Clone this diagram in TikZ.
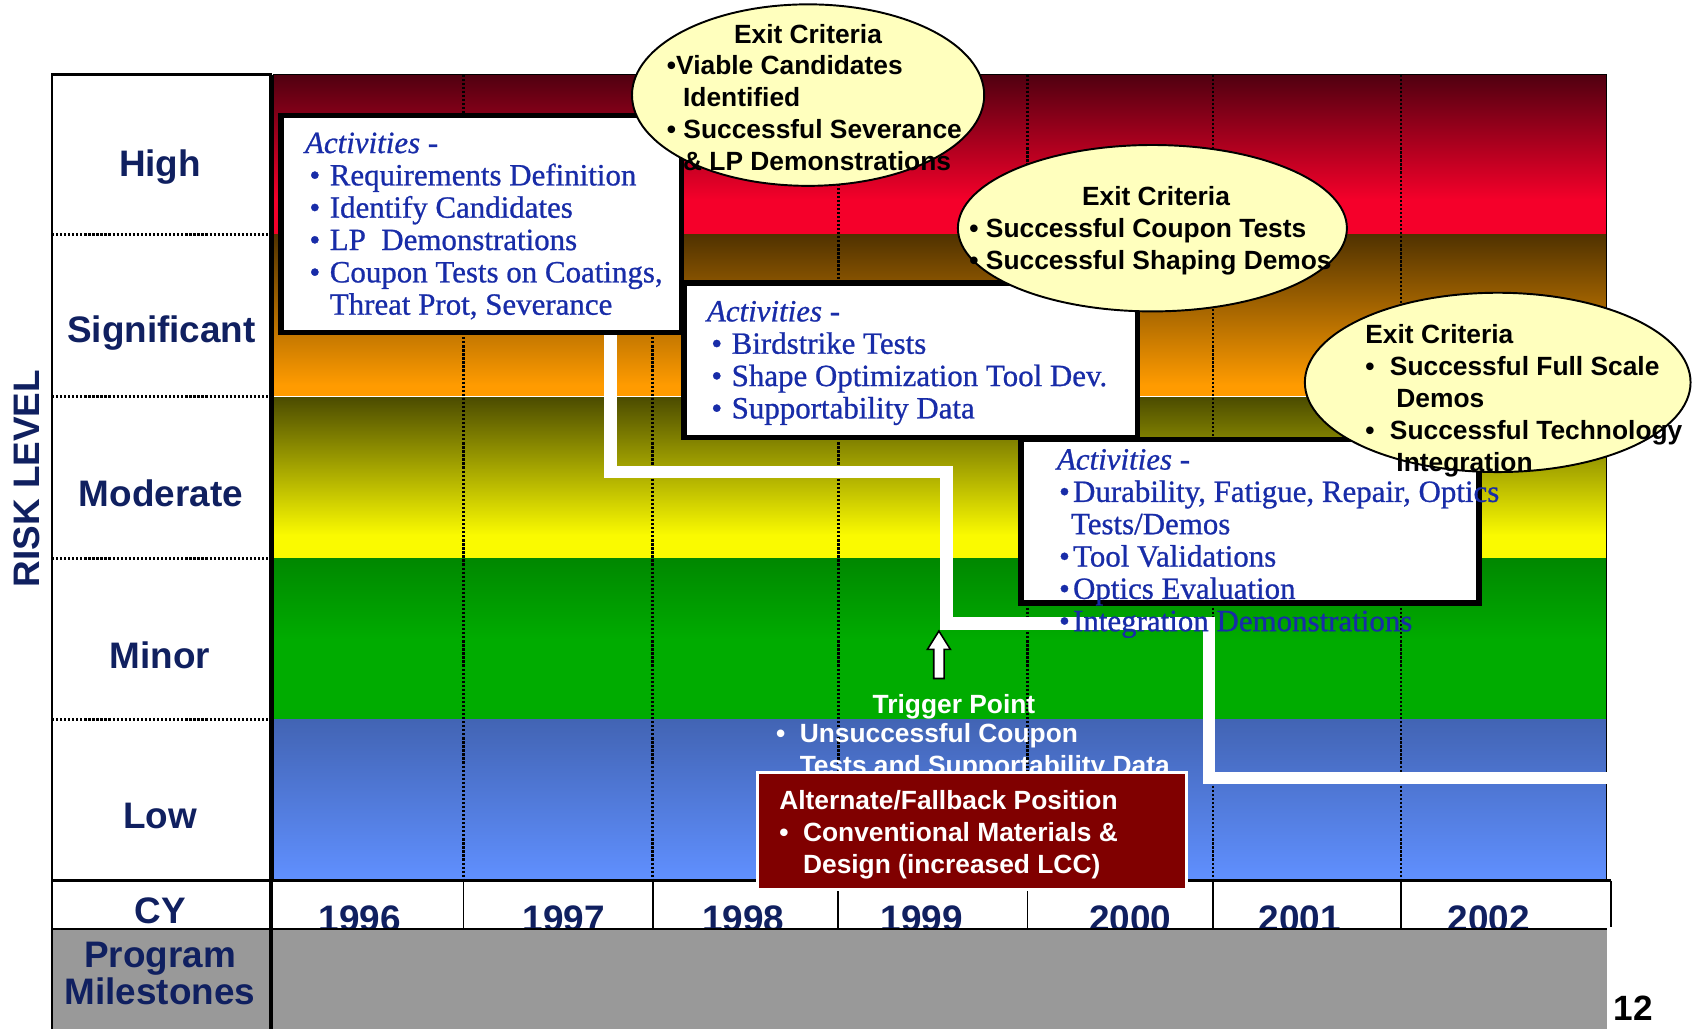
\documentclass[tikz,border=0pt]{standalone}
\usepackage{fontspec}
\setmainfont{Liberation Sans}
\newfontfamily\actfont[FakeBold=0.8]{Liberation Serif}
\usetikzlibrary{shapes.geometric}

\definecolor{navylbl}{RGB}{16,32,96}
\definecolor{actblue}{RGB}{24,44,168}
\definecolor{exityel}{RGB}{255,255,190}
\definecolor{fallred}{RGB}{128,0,0}
\definecolor{msgray}{RGB}{153,153,153}
\definecolor{hitop}{RGB}{80,0,16}
\definecolor{hibot}{RGB}{245,0,42}
\definecolor{sgtop}{RGB}{80,50,0}
\definecolor{sgbot}{RGB}{255,155,0}
\definecolor{mdtop}{RGB}{75,75,0}
\definecolor{mdbot}{RGB}{250,250,0}
\definecolor{mntop}{RGB}{0,136,0}
\definecolor{mnbot}{RGB}{0,172,0}
\definecolor{lwtop}{RGB}{66,100,180}
\definecolor{lwbot}{RGB}{96,144,255}

\newcommand{\actbul}{\hspace*{2.5pt}\makebox[11.6pt][l]{\textbullet}}
\newcommand{\actind}{\hspace*{14.1pt}}
\newcommand{\actbulc}{\hspace*{1.2pt}\makebox[8pt][l]{\textbullet}}
\newcommand{\exbul}{\makebox[14pt][l]{\textbullet}}
\newcommand{\fbbul}{\makebox[13.5pt][l]{\textbullet}}

\tikzset{
  lvl/.style={font=\fontsize{21}{21}\selectfont\bfseries, text=navylbl, anchor=base, inner sep=0pt},
  yrline/.style={densely dotted, line width=1.3pt},
  lvlsep/.style={densely dotted, line width=1.3pt},
  actbox/.style={rectangle, draw=black, line width=3pt, fill=white, inner sep=0pt},
  acttext/.style={font=\actfont\fontsize{17.6}{18.4}\selectfont, text=actblue, align=left, anchor=base west, inner sep=0pt},
  exitbub/.style={ellipse, draw=black, line width=1.1pt, fill=exityel, inner sep=0pt},
  exittext/.style={font=\fontsize{15}{18.3}\selectfont\bfseries, align=left, anchor=base west, inner sep=0pt},
  stairline/.style={white, line width=7pt, line join=miter},
  falltext/.style={exittext, text=white},
  trigshape/.style={draw=black, fill=white, line width=0.9pt, line join=miter},
}

\begin{document}
\begin{tikzpicture}[x=0.02cm, y=-0.02cm]
% Set the unit: one pixel of the slide
\def\u{0.02cm}
\useasboundingbox (0,0) rectangle (1694,1028);

% Risk bands
\fill[white] (51.9,74.5) rectangle (271.2,880.5);
\shade[top color=hitop, bottom color=hibot] (273.3,74.5) rectangle (1606.6,200);
\fill[hibot] (273.3,200) rectangle (1606.6,234.4);
\shade[top color=sgtop, bottom color=sgbot] (273.3,234.4) rectangle (1606.6,385);
\fill[sgbot] (273.3,385) rectangle (1606.6,396.5);
\shade[top color=mdtop, bottom color=mdbot] (273.3,396.5) rectangle (1606.6,535);
\fill[mdbot] (273.3,535) rectangle (1606.6,558.6);
\shade[top color=mntop, bottom color=mnbot] (273.3,558.6) rectangle (1606.6,640);
\fill[mnbot] (273.3,640) rectangle (1606.6,719.5);
\shade[top color=lwtop, bottom color=lwbot] (273.3,719.5) rectangle (1606.6,880.5);
\draw[white, line width=0.6pt] (273.3,396.5) -- (1606.6,396.5);

% Year lines and level separators
\draw[yrline] (463.5,74.5) -- (463.5,880.5);
\draw[yrline] (652.6,74.5) -- (652.6,880.5);
\draw[yrline] (838.4,74.5) -- (838.4,880.5);
\draw[yrline] (1027.5,74.5) -- (1027.5,880.5);
\draw[yrline] (1213.3,74.5) -- (1213.3,880.5);
\draw[yrline] (1401.3,74.5) -- (1401.3,880.5);
\draw[lvlsep] (51.9,234.4) -- (271.2,234.4);
\draw[lvlsep] (51.9,396.5) -- (271.2,396.5);
\draw[lvlsep] (51.9,558.6) -- (271.2,558.6);
\draw[lvlsep] (51.9,719.5) -- (271.2,719.5);
\draw[line width=1.3pt] (51.9,74.5) rectangle (271.2,880.5);
\draw[line width=0.8pt] (273.3,74.5) rectangle (1606.6,880.5);

% Path through the risk levels
\coordinate (stairs0) at (610.4,332.8);
\coordinate (stairs1) at (946.4,472.1);
\coordinate (stairs2) at (1209,623.4);
\coordinate (stairs3) at (1606.6,777.9);
\draw[stairline] (stairs0) |- (stairs1) |- (stairs2) |- (stairs3);

% Activity boxes and exit criteria
\node[actbox, minimum width=400.8*\u, minimum height=217.2*\u] (acta) at (481.3,224.2) {};
\node[actbox, minimum width=453.8*\u, minimum height=154.6*\u] (actb) at (910.8,360.3) {};
\node[actbox, minimum width=458*\u, minimum height=163.2*\u] (actc) at (1250,521.3) {};
\node[exitbub, minimum width=352.2*\u, minimum height=181.5*\u] (exa) at (808.1,95.1) {};
\node[exitbub, minimum width=389*\u, minimum height=166.4*\u] (exb) at (1152.4,228.2) {};
\node[exitbub, minimum width=385.7*\u, minimum height=179.3*\u] (exc) at (1497.7,382.4) {};

% Calendar row and milestones
\draw[line width=1.3pt] (51.9,880.5) -- (1610.9,880.5);
\draw[line width=1.3pt] (51.9,880.5) -- (51.9,929.1);
\draw[line width=1.3pt] (1610.9,880.5) -- (1610.9,927);
\draw[line width=1.1pt] (463.5,880.5) -- (463.5,929.1);
\draw[line width=1.1pt] (652.6,880.5) -- (652.6,929.1);
\draw[line width=1.1pt] (838.4,880.5) -- (838.4,929.1);
\draw[line width=1.1pt] (1027.5,880.5) -- (1027.5,929.1);
\draw[line width=1.1pt] (1213.3,880.5) -- (1213.3,929.1);
\draw[line width=1.1pt] (1401.3,880.5) -- (1401.3,929.1);
\node[lvl] (cy) at (160,923.5) {CY};
\node[lvl] (y1996) at (359.8,931) {1996};
\node[lvl] (y1997) at (564,931) {1997};
\node[lvl] (y1998) at (743.3,931) {1998};
\node[lvl] (y1999) at (921.6,931) {1999};
\node[lvl] (y2000) at (1130.1,931) {2000};
\node[lvl] (y2001) at (1299.7,931) {2001};
\node[lvl] (y2002) at (1488.8,931) {2002};
\fill[msgray] (51.9,929.1) rectangle (1606.6,1028.5);
\draw[line width=1.5pt] (51.9,929.1) -- (1606.6,929.1);
\draw[line width=1.3pt] (51.9,929.1) -- (51.9,1028.5);
\draw[line width=2.6pt] (271.2,74.5) -- (271.2,1028.5);
\node[lvl] (prog) at (160,967) {Program};
\node[lvl] (miles) at (160,1004) {Milestones};

% Risk level labels
\node[lvl] (lvlhigh) at (160,176.4) {High};
\node[lvl] (lvlsig) at (161.5,342.8) {Significant};
\node[lvl] (lvlmod) at (161,506) {Moderate};
\node[lvl] (lvlmin) at (160,668) {Minor};
\node[lvl] (lvllow) at (160,828) {Low};
\node[lvl, anchor=center, rotate=90] (risk) at (27,478.6) {RISK LEVEL};
\node[font=\fontsize{20}{20}\selectfont\bfseries, inner sep=0pt] (pgno) at (1633.5,1008) {12};

% Activities (anchored on the last line)
\node[acttext] (actatext) at (304.7,314.7) {\textit{Activities -}\\
  \actbul Requirements Definition\\
  \actbul Identify Candidates\\
  \actbul LP\ \ Demonstrations\\
  \actbul Coupon Tests on Coatings,\\
  \actind Threat Prot, Severance};
\node[acttext] (actbtext) at (706.6,418.4) {\textit{Activities -}\\
  \actbul Birdstrike Tests\\
  \actbul Shape Optimization Tool Dev.\\
  \actbul Supportability Data};
\node[acttext] (actctext) at (1056.6,631.2) {\textit{Activities -}\\
  \actbulc Durability, Fatigue, Repair, Optics\\
  \hspace*{8pt}Tests/Demos\\
  \actbulc Tool Validations\\
  \actbulc Optics Evaluation\\
  \actbulc Integration Demonstrations};

% Exit criteria
\node[exittext, anchor=base] (exatitle) at (808,43) {Exit Criteria};
\node[exittext] (exatext) at (666.6,170.5) {\textbullet Viable Candidates\\
  \hspace*{9.2pt}Identified\\
  \textbullet\ Successful Severance\\
  \hspace*{9.2pt}\& LP Demonstrations};
\node[exittext, anchor=base] (exbtitle) at (1156,205) {Exit Criteria};
\node[exittext] (exbtext) at (969.1,269.9) {\textbullet\ Successful Coupon Tests\\
  \textbullet\ Successful Shaping Demos};
\node[exittext] (exctext) at (1365,471.9) {Exit Criteria\\
  \exbul Successful Full Scale\\
  \hspace*{17.7pt}Demos\\
  \exbul Successful Technology\\
  \hspace*{17.7pt}Integration};

% Trigger point and fallback
\draw[trigshape] (938.9,631) -- (950.4,649.4) -- (944.1,649.4) -- (944.1,678.5)
  -- (933.7,678.5) -- (933.7,649.4) -- (927.4,649.4) -- cycle;
\node[falltext, anchor=base] (trig) at (954,713) {Trigger Point};
\node[falltext] (unsucc) at (775.7,774.5) {\fbbul Unsuccessful Coupon\\
  \hspace*{13.5pt}Tests and Supportability Data};
\node[rectangle, draw=white, line width=1.5pt, fill=fallred, inner sep=0pt,
  minimum width=428.9*\u, minimum height=116.7*\u] (fallbox) at (971.85,830.85) {};
\node[falltext] (falltxt) at (779,873.8) {Alternate/Fallback Position\\
  \fbbul Conventional Materials \&\\
  \hspace*{13.5pt}Design (increased LCC)};
\end{tikzpicture}
\end{document}
